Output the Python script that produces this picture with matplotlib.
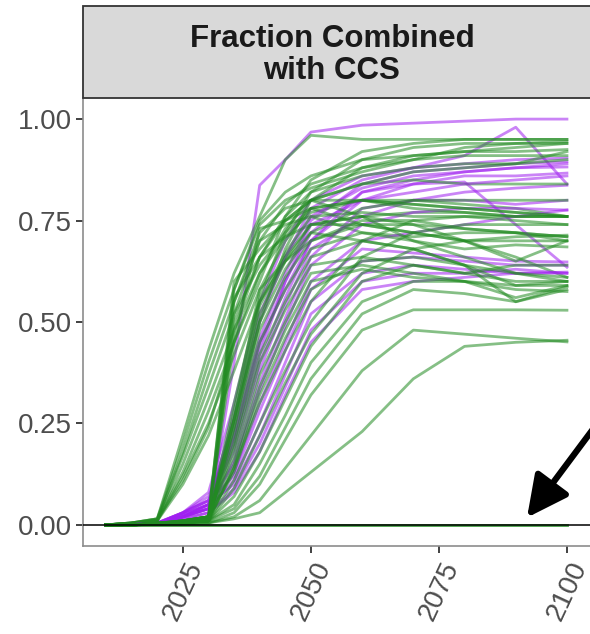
# Fraction Combined with CCS - scenario runs

import numpy as np
from matplotlib import pyplot as plt
from matplotlib.patches import Rectangle

plt.rcParams['font.family'] = ['Liberation Sans', 'DejaVu Sans']

## Data ---------

years = [2010, 2015, 2020, 2025, 2030, 2035, 2040, 2045, 2050, 2060, 2070, 2080, 2090, 2100]

green_runs = [
    [0, 0, 0, 0, 0, 0, 0, 0, 0, 0, 0, 0, 0, 0],
    [0, 0, 0, 0, 0, 0, 0, 0, 0, 0, 0, 0, 0, 0],
    # early movers (2020)
    [0, 0.005, 0.015, 0.22, 0.43, 0.62, 0.76, 0.90, 0.96, 0.95, 0.95, 0.95, 0.95, 0.95],
    [0, 0.005, 0.015, 0.20, 0.40, 0.58, 0.74, 0.80, 0.83, 0.87, 0.90, 0.93, 0.94, 0.94],
    [0, 0.005, 0.012, 0.18, 0.37, 0.55, 0.72, 0.78, 0.80, 0.84, 0.87, 0.88, 0.89, 0.92],
    [0, 0.005, 0.015, 0.17, 0.34, 0.52, 0.70, 0.74, 0.76, 0.72, 0.71, 0.72, 0.72, 0.71],
    [0, 0.004, 0.010, 0.15, 0.31, 0.48, 0.66, 0.71, 0.74, 0.76, 0.77, 0.77, 0.76, 0.76],
    [0, 0.004, 0.012, 0.13, 0.28, 0.45, 0.62, 0.71, 0.77, 0.80, 0.80, 0.79, 0.78, 0.76],
    [0, 0.004, 0.010, 0.12, 0.25, 0.42, 0.58, 0.65, 0.70, 0.74, 0.74, 0.73, 0.72, 0.70],
    [0, 0.004, 0.010, 0.10, 0.22, 0.38, 0.55, 0.65, 0.72, 0.78, 0.80, 0.80, 0.80, 0.80],
    [0, 0.004, 0.012, 0.11, 0.24, 0.45, 0.73, 0.75, 0.78, 0.74, 0.72, 0.70, 0.66, 0.61],
    # 2030 movers
    [0, 0, 0.005, 0.010, 0.020, 0.58, 0.75, 0.82, 0.86, 0.90, 0.91, 0.92, 0.93, 0.94],
    [0, 0, 0.005, 0.008, 0.010, 0.55, 0.70, 0.79, 0.84, 0.88, 0.90, 0.91, 0.91, 0.91],
    [0, 0, 0.003, 0.008, 0.015, 0.50, 0.66, 0.76, 0.82, 0.86, 0.88, 0.89, 0.89, 0.90],
    [0, 0, 0.004, 0.010, 0.020, 0.48, 0.62, 0.73, 0.80, 0.84, 0.85, 0.84, 0.84, 0.84],
    [0, 0, 0.003, 0.006, 0.010, 0.28, 0.58, 0.70, 0.78, 0.80, 0.79, 0.78, 0.77, 0.76],
    [0, 0, 0.004, 0.010, 0.020, 0.26, 0.55, 0.67, 0.76, 0.77, 0.76, 0.76, 0.75, 0.74],
    [0, 0, 0.003, 0.006, 0.010, 0.24, 0.52, 0.65, 0.74, 0.74, 0.72, 0.70, 0.70, 0.70],
    [0, 0, 0.004, 0.008, 0.015, 0.22, 0.48, 0.61, 0.70, 0.75, 0.75, 0.73, 0.72, 0.71],
    [0, 0, 0.003, 0.010, 0.020, 0.20, 0.45, 0.58, 0.68, 0.72, 0.70, 0.68, 0.69, 0.685],
    [0, 0, 0.004, 0.006, 0.010, 0.19, 0.42, 0.55, 0.66, 0.70, 0.68, 0.64, 0.62, 0.61],
    [0, 0, 0.003, 0.010, 0.020, 0.17, 0.40, 0.53, 0.64, 0.66, 0.64, 0.62, 0.60, 0.60],
    [0, 0, 0.004, 0.006, 0.010, 0.15, 0.37, 0.50, 0.62, 0.64, 0.62, 0.60, 0.59, 0.59],
    [0, 0, 0.003, 0.008, 0.015, 0.14, 0.34, 0.48, 0.60, 0.63, 0.61, 0.60, 0.58, 0.575],
    [0, 0, 0.004, 0.010, 0.020, 0.13, 0.32, 0.46, 0.58, 0.65, 0.66, 0.64, 0.59, 0.60],
    [0, 0, 0.005, 0.010, 0.020, 0.45, 0.60, 0.76, 0.85, 0.92, 0.94, 0.95, 0.95, 0.95],
    [0, 0, 0.005, 0.008, 0.015, 0.30, 0.56, 0.72, 0.82, 0.90, 0.93, 0.94, 0.94, 0.945],
    [0, 0, 0.004, 0.010, 0.020, 0.26, 0.50, 0.68, 0.80, 0.88, 0.91, 0.92, 0.92, 0.925],
    [0, 0, 0.004, 0.010, 0.020, 0.56, 0.66, 0.75, 0.80, 0.76, 0.70, 0.66, 0.62, 0.60],
    [0, 0, 0.003, 0.006, 0.010, 0.24, 0.50, 0.63, 0.72, 0.70, 0.68, 0.64, 0.55, 0.58],
    [0, 0, 0.003, 0.006, 0.010, 0.26, 0.54, 0.66, 0.74, 0.76, 0.74, 0.70, 0.65, 0.70],
    [0, 0, 0.003, 0.008, 0.015, 0.60, 0.68, 0.75, 0.80, 0.80, 0.79, 0.78, 0.77, 0.76],
    [0, 0, 0.003, 0.006, 0.010, 0.52, 0.64, 0.72, 0.78, 0.80, 0.78, 0.77, 0.76, 0.76],
    # slow movers
    [0, 0, 0.003, 0.006, 0.010, 0.14, 0.30, 0.43, 0.55, 0.70, 0.75, 0.76, 0.76, 0.76],
    [0, 0, 0.002, 0.005, 0.010, 0.11, 0.25, 0.38, 0.50, 0.66, 0.72, 0.74, 0.74, 0.74],
    [0, 0, 0.002, 0.005, 0.010, 0.09, 0.22, 0.35, 0.47, 0.62, 0.68, 0.70, 0.71, 0.714],
    [0, 0, 0.002, 0.005, 0.010, 0.07, 0.18, 0.31, 0.44, 0.60, 0.64, 0.62, 0.64, 0.64],
    [0, 0, 0.002, 0.004, 0.010, 0.05, 0.15, 0.27, 0.40, 0.55, 0.60, 0.60, 0.56, 0.59],
    [0, 0, 0.002, 0.004, 0.010, 0.04, 0.12, 0.24, 0.36, 0.52, 0.58, 0.57, 0.55, 0.587],
    [0, 0, 0.002, 0.003, 0.005, 0.03, 0.10, 0.21, 0.32, 0.48, 0.53, 0.53, 0.53, 0.529],
    [0, 0, 0.001, 0.002, 0.005, 0.015, 0.03, 0.08, 0.13, 0.23, 0.36, 0.44, 0.45, 0.455],
    [0, 0, 0.001, 0.002, 0.005, 0.02, 0.06, 0.14, 0.22, 0.38, 0.48, 0.47, 0.46, 0.451],
]

purple_runs = [
    [0, 0, 0.003, 0.008, 0.020, 0.40, 0.837, 0.90, 0.968, 0.985, 0.99, 0.995, 1.0, 1.0],
    [0, 0.002, 0.005, 0.030, 0.08, 0.30, 0.55, 0.70, 0.80, 0.86, 0.88, 0.91, 0.98, 0.84],
    [0, 0.002, 0.005, 0.030, 0.06, 0.26, 0.50, 0.66, 0.78, 0.85, 0.88, 0.89, 0.90, 0.904],
    [0, 0.002, 0.005, 0.025, 0.05, 0.24, 0.46, 0.62, 0.75, 0.84, 0.87, 0.88, 0.89, 0.895],
    [0, 0.002, 0.004, 0.030, 0.07, 0.22, 0.44, 0.60, 0.72, 0.82, 0.85, 0.87, 0.88, 0.882],
    [0, 0.002, 0.004, 0.020, 0.05, 0.20, 0.40, 0.56, 0.70, 0.80, 0.84, 0.86, 0.86, 0.867],
    [0, 0.002, 0.004, 0.030, 0.06, 0.18, 0.38, 0.54, 0.68, 0.76, 0.80, 0.82, 0.83, 0.837],
    [0, 0.002, 0.004, 0.020, 0.04, 0.16, 0.35, 0.51, 0.66, 0.78, 0.80, 0.80, 0.79, 0.80],
    [0, 0.001, 0.003, 0.020, 0.05, 0.15, 0.33, 0.49, 0.64, 0.74, 0.77, 0.78, 0.78, 0.776],
    [0, 0.001, 0.003, 0.020, 0.04, 0.13, 0.30, 0.45, 0.60, 0.70, 0.72, 0.74, 0.76, 0.776],
    [0, 0.001, 0.003, 0.030, 0.06, 0.12, 0.28, 0.43, 0.58, 0.68, 0.67, 0.66, 0.65, 0.648],
    [0, 0.001, 0.003, 0.020, 0.04, 0.11, 0.25, 0.40, 0.55, 0.65, 0.66, 0.65, 0.64, 0.640],
    [0, 0.001, 0.003, 0.025, 0.05, 0.10, 0.22, 0.37, 0.52, 0.62, 0.64, 0.63, 0.62, 0.623],
    [0, 0.001, 0.003, 0.015, 0.03, 0.09, 0.20, 0.34, 0.48, 0.60, 0.62, 0.62, 0.63, 0.62],
    [0, 0.001, 0.002, 0.020, 0.04, 0.22, 0.45, 0.58, 0.70, 0.82, 0.84, 0.845, 0.74, 0.635],
    [0, 0.001, 0.003, 0.025, 0.05, 0.27, 0.52, 0.66, 0.76, 0.83, 0.86, 0.87, 0.88, 0.89],
    [0, 0.001, 0.003, 0.020, 0.04, 0.21, 0.42, 0.60, 0.74, 0.80, 0.82, 0.84, 0.85, 0.86],
    [0, 0.001, 0.002, 0.015, 0.03, 0.08, 0.18, 0.32, 0.45, 0.58, 0.60, 0.61, 0.62, 0.62],
]

title = 'Fraction Combined\nwith CCS'
x_ticks = [2025, 2050, 2075, 2100]
y_ticks = [0.0, 0.25, 0.50, 0.75, 1.0]

## Plot ---------

fig = plt.figure(figsize=(5.9, 6.34), dpi=100)
ax = fig.add_axes([83 / 590, 1 - 546 / 634, 1 - 83 / 590, (546 - 98) / 634])

green = '#228B22'
purple = '#A020F0'

# interleave so neither colour sits fully on top
n = max(len(green_runs), len(purple_runs))
for i in range(n):
    if i < len(purple_runs):
        ax.plot(years, purple_runs[i], color=purple, alpha=0.55, lw=2.0)
    if i < len(green_runs):
        ax.plot(years, green_runs[i], color=green, alpha=0.55, lw=2.0)

ax.axhline(0, color='black', lw=1.1, zorder=5)

ax.set_xlim(2005.5, 2104.5)
ax.set_ylim(-0.052, 1.052)
ax.set_xticks(x_ticks)
ax.set_yticks(y_ticks)
ax.set_yticklabels(['%.2f' % v for v in y_ticks])
ax.tick_params(axis='both', colors='#333333', labelcolor='#4d4d4d',
               labelsize=20, length=5, width=1.3, pad=3)
plt.setp(ax.get_xticklabels(), rotation=65, ha='center')

for side in ['top', 'right']:
    ax.spines[side].set_visible(False)
for side in ['left', 'bottom']:
    ax.spines[side].set_color('#8c8c8c')
    ax.spines[side].set_linewidth(1.2)

# arrow pointing at the flat zero runs
ax.annotate('', xy=(2092.2, 0.018), xytext=(2106.5, 0.26),
            annotation_clip=False,
            arrowprops=dict(arrowstyle='-|>,head_length=1.0,head_width=0.5',
                            lw=4.5, color='black', mutation_scale=25,
                            shrinkA=0, shrinkB=0))

# facet strip
strip = Rectangle((83 / 590, 1 - 98 / 634), 1.0, 92 / 634, transform=fig.transFigure,
                  facecolor='#d9d9d9', edgecolor='#333333', lw=1.3, clip_on=False)
fig.patches.append(strip)
fig.text(332 / 590, 1 - 55 / 634, title, ha='center', va='center',
         fontsize=22.5, fontweight='bold', color='#1a1a1a', linespacing=1.1)

plt.savefig('out.png', dpi=100)
